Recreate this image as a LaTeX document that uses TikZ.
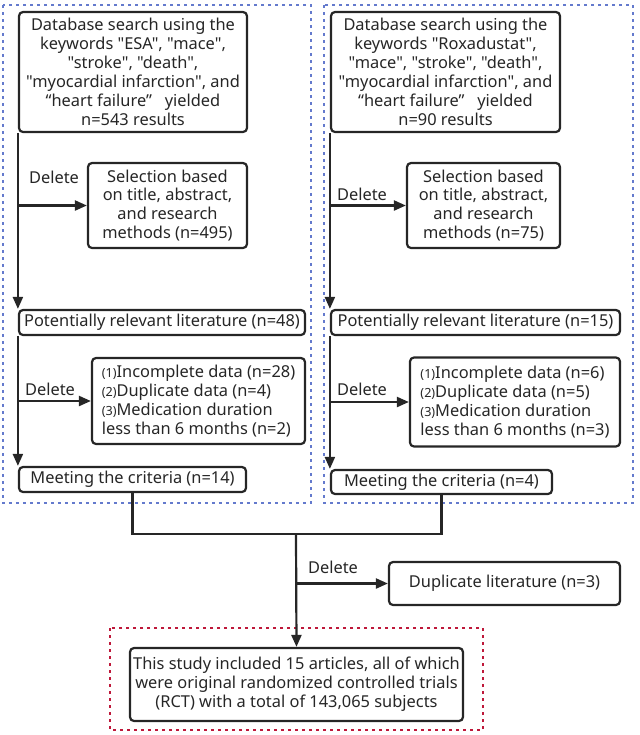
\documentclass[tikz,border=0pt]{standalone}
\usepackage{fontspec}
\newfontfamily\chartfont{Noto Sans}
\usetikzlibrary{arrows.meta, positioning, calc}
\definecolor{frameblue}{RGB}{100,122,205}
\definecolor{framered}{RGB}{190,24,58}
\definecolor{ink}{RGB}{38,38,38}
\newcommand{\pnum}[1]{{\fontsize{6.3}{6}\selectfont(#1)}}

\begin{document}
\begin{tikzpicture}[x=0.5pt, y=-0.5pt, font=\chartfont\fontsize{8.2}{9.45}\selectfont,
  box/.style={draw=ink, line width=1.1pt, rounded corners=2pt, align=center, inner sep=0pt, text=ink},
  arr/.style={draw=ink, line width=1.1pt, -{Triangle[length=6pt, width=5pt]}},
  link/.style={draw=ink, line width=1.1pt},
  lbl/.style={text=ink, inner sep=0pt},
  frame/.style={line width=1.3pt, dash pattern=on 1.4pt off 2.1pt}]
  \useasboundingbox (0,0) rectangle (640,735);
  % dotted frames
  \draw[frame, frameblue] (3,5) rectangle (311,503);
  \draw[frame, frameblue] (324,5) rectangle (633,503);
  \draw[frame, framered] (110,628) rectangle (483,730);

  % left column: ESA
  \node[box, minimum width=114pt, minimum height=60pt] (dbL) at (133,72)
    {Database search using the\\keywords "ESA", "mace",\\"stroke", "death",\\"myocardial infarction", and\\“heart failure”\ \ \ yielded\\n=543 results};
  \node[box, minimum width=79.5pt, minimum height=42.5pt] (selL) at (167.5,205.5)
    {Selection based\\on title, abstract,\\and research\\methods (n=495)};
  \node[box, minimum width=143pt, minimum height=12.5pt] (potL) at (162,322.5)
    {Potentially relevant literature (n=48)};
  \node[box, align=left, minimum width=106.5pt, minimum height=43pt] (excL) at (198.5,401)
    {\pnum{1}Incomplete data (n=28)\\\pnum{2}Duplicate data (n=4)\\\pnum{3}Medication duration\\less than 6 months (n=2)};
  \node[box, minimum width=113.5pt, minimum height=12.5pt] (meetL) at (132.5,479.5)
    {Meeting the criteria (n=14)};

  % right column: Roxadustat
  \node[box, minimum width=114.5pt, minimum height=60pt] (dbR) at (445.5,72)
    {Database search using the\\keywords "Roxadustat",\\"mace", "stroke", "death",\\"myocardial infarction", and\\“heart failure”\ \ \ yielded\\n=90 results};
  \node[box, minimum width=76.5pt, minimum height=42.5pt] (selR) at (483.5,205.5)
    {Selection based\\on title, abstract,\\and research\\methods (n=75)};
  \node[box, minimum width=144.5pt, minimum height=12.5pt] (potR) at (475.5,322.5)
    {Potentially relevant literature (n=15)};
  \node[box, align=left, minimum width=105pt, minimum height=44.5pt] (excR) at (515,402)
    {\pnum{1}Incomplete data (n=6)\\\pnum{2}Duplicate data (n=5)\\\pnum{3}Medication duration\\less than 6 months (n=3)};
  \node[box, minimum width=110.5pt, minimum height=12pt] (meetR) at (441.5,482)
    {Meeting the criteria (n=4)};

  % merged part
  \node[box, minimum width=115.5pt, minimum height=21.5pt] (dup) at (504.5,583.5)
    {Duplicate literature (n=3)};
  \node[box, minimum width=166.5pt, minimum height=36.5pt] (final) at (296.5,684.5)
    {This study included 15 articles, all of which\\were original randomized controlled trials\\(RCT) with a total of 143,065 subjects};
  \coordinate (join) at (296,534);

  % Delete labels
  \node[lbl] (d1) at (54,177) {Delete};
  \node[lbl] (d2) at (50,389) {Delete};
  \node[lbl] (d3) at (362,194) {Delete};
  \node[lbl] (d4) at (362,389) {Delete};
  \node[lbl] (d5) at (333,567) {Delete};

  % connectors left
  \draw[arr] (dbL.south west) -- (potL.north west);
  \draw[arr] (dbL.south west |- selL.west) -- (selL.west);
  \draw[arr] (potL.south west) -- (meetL.north west);
  \draw[arr] (potL.south west |- excL.west) -- (excL.west);
  % connectors right
  \draw[arr] (dbR.south west) -- (potR.north west);
  \draw[arr] (dbR.south west |- selR.west) -- (selR.west);
  \draw[arr] (potR.south west) -- (meetR.north west);
  \draw[arr] (potR.south west |- excR.west) -- (excR.west);
  % merge
  \draw[link] (meetL.south) |- (join) -| (meetR.south);
  \draw[arr] (join) -- (final.north);
  \draw[arr] (join |- dup.west) -- (dup.west);
\end{tikzpicture}
\end{document}
